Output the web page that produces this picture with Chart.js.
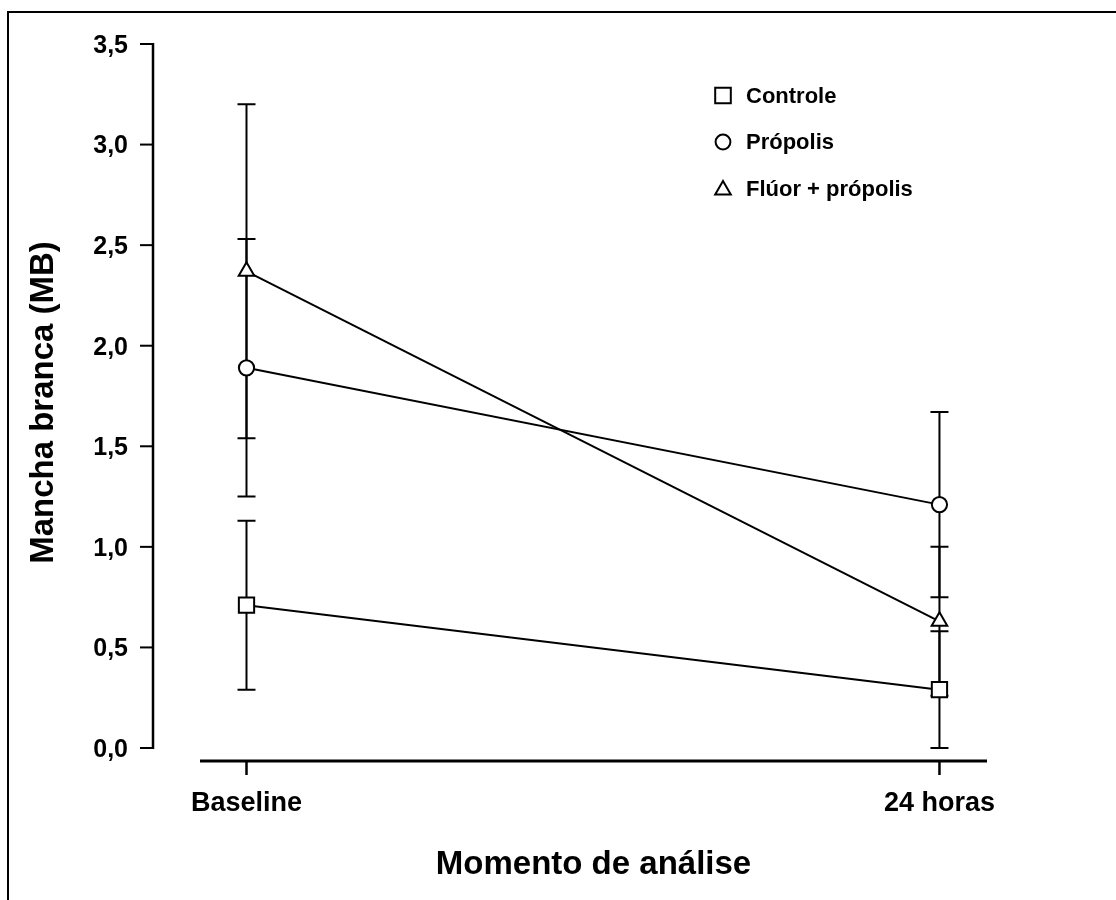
<!DOCTYPE html>
<html><head><meta charset="utf-8">
<script src="https://cdn.jsdelivr.net/npm/chart.js@4.4.0/dist/chart.umd.min.js"></script>
<style>html,body{margin:0;padding:0;background:#fff;}#wrap{width:1116px;height:900px;position:relative;}</style>
</head><body><div id="wrap"><canvas id="c" width="1116" height="900"></canvas></div>
<script>
// ---- data ----
const categories = ['Baseline', '24 horas'];
const seriesNames = ['Controle', 'Própolis', 'Flúor + própolis'];
const controleMean = [0.71, 0.29];
const controleSD   = [0.42, 0.29];
const propolisMean = [1.89, 1.21];
const propolisSD   = [0.64, 0.46];
const fluorMean    = [2.37, 0.63];
const fluorSD      = [0.83, 0.37];
const yTickValues  = [0, 0.5, 1.0, 1.5, 2.0, 2.5, 3.0, 3.5];
const xTickValues  = [0, 1];

const FONT = 'Liberation Sans, Arial, Helvetica, sans-serif';
const toPts = arr => arr.map((v, i) => ({x: xTickValues[i], y: v}));

const errorBars = {
  id: 'errorBars',
  beforeDatasetsDraw(chart) {
    const {ctx, scales: {y}} = chart;
    ctx.save();
    ctx.strokeStyle = '#000';
    ctx.lineWidth = 2;
    chart.data.datasets.forEach((ds, di) => {
      const meta = chart.getDatasetMeta(di);
      ds.errors.forEach((e, i) => {
        const px = meta.data[i].x;
        const m = ds.data[i].y;
        const t = y.getPixelForValue(m + e), b = y.getPixelForValue(m - e);
        ctx.beginPath();
        ctx.moveTo(px, t); ctx.lineTo(px, b);
        ctx.moveTo(px - 9, t); ctx.lineTo(px + 9, t);
        ctx.moveTo(px - 9, b); ctx.lineTo(px + 9, b);
        ctx.stroke();
      });
    });
    ctx.restore();
  }
};

function marker(ctx, style, x, y) {
  ctx.beginPath();
  if (style === 'rect') {
    ctx.rect(x - 7.8, y - 7.8, 15.6, 15.6);
  } else if (style === 'circle') {
    ctx.arc(x, y, 7.4, 0, Math.PI * 2);
  } else {
    ctx.moveTo(x, y - 7.5); ctx.lineTo(x + 7.8, y + 6); ctx.lineTo(x - 7.8, y + 6); ctx.closePath();
  }
  ctx.fillStyle = '#fff'; ctx.fill();
  ctx.stroke();
}

const decor = {
  id: 'decor',
  afterDraw(chart) {
    const {ctx, chartArea, scales: {x, y}} = chart;
    ctx.save();
    ctx.strokeStyle = '#000';
    ctx.lineCap = 'butt';
    // y axis line (offset left of plot area)
    const axX = chartArea.left - 47;
    ctx.lineWidth = 2.5;
    ctx.beginPath();
    ctx.moveTo(axX, y.getPixelForValue(0) + 1);
    ctx.lineTo(axX, y.getPixelForValue(3.5) - 1);
    ctx.stroke();
    ctx.lineWidth = 2;
    yTickValues.forEach(v => {
      const py = y.getPixelForValue(v);
      ctx.beginPath(); ctx.moveTo(axX - 13, py); ctx.lineTo(axX + 1, py); ctx.stroke();
    });
    // x axis line
    ctx.lineWidth = 3;
    ctx.beginPath(); ctx.moveTo(chartArea.left, chartArea.bottom); ctx.lineTo(chartArea.right, chartArea.bottom); ctx.stroke();
    ctx.lineWidth = 2.5;
    xTickValues.forEach(v => {
      const px = x.getPixelForValue(v);
      ctx.beginPath(); ctx.moveTo(px, chartArea.bottom); ctx.lineTo(px, chartArea.bottom + 14); ctx.stroke();
    });
    // frame
    ctx.lineWidth = 2;
    ctx.beginPath(); ctx.moveTo(8, 900); ctx.lineTo(8, 12); ctx.lineTo(1116, 12); ctx.stroke();
    // legend
    const rowsY = [95.5, 142, 188.5];
    ctx.font = 'bold 22px ' + FONT;
    ctx.textBaseline = 'middle';
    ctx.textAlign = 'left';
    ctx.lineWidth = 2;
    chart.data.datasets.forEach((ds, i) => {
      marker(ctx, ds.pointStyle, 723, rowsY[i]);
      ctx.fillStyle = '#000';
      ctx.fillText(ds.label, 746, rowsY[i] + 1);
    });
    ctx.restore();
  }
};

const common = {
  borderColor: '#000', borderWidth: 2,
  pointBackgroundColor: '#fff', pointBorderColor: '#000', pointBorderWidth: 2,
  tension: 0, fill: false
};

new Chart(document.getElementById('c'), {
  type: 'line',
  data: {
    datasets: [
      Object.assign({label: seriesNames[0], data: toPts(controleMean), errors: controleSD, pointStyle: 'rect', pointRadius: 10.8}, common),
      Object.assign({label: seriesNames[1], data: toPts(propolisMean), errors: propolisSD, pointStyle: 'circle', pointRadius: 7.6}, common),
      Object.assign({label: seriesNames[2], data: toPts(fluorMean), errors: fluorSD, pointStyle: 'triangle', pointRadius: 9}, common)
    ]
  },
  options: {
    responsive: false, animation: false, devicePixelRatio: 1,
    layout: {padding: {left: 8, right: 129, top: 44, bottom: 0}},
    plugins: {legend: {display: false}, tooltip: {enabled: false}},
    scales: {
      x: {
        type: 'linear', min: -0.0671, max: 1.0686,
        afterBuildTicks: s => { s.ticks = xTickValues.map(v => ({value: v})); },
        afterFit: s => { s.height = 139; },
        grid: {display: false, drawTicks: false}, border: {display: false},
        ticks: {color: '#000', padding: 26, maxRotation: 0, autoSkip: false,
          font: {family: FONT, size: 27, weight: 'bold'},
          callback: v => categories[xTickValues.indexOf(v)]},
        title: {display: true, text: 'Momento de análise', color: '#000',
          font: {family: FONT, size: 33, weight: 'bold'}, padding: {top: 0, bottom: 15}}
      },
      y: {
        type: 'linear', min: -0.0646, max: 3.5,
        afterBuildTicks: s => { s.ticks = yTickValues.map(v => ({value: v})); },
        afterFit: s => { s.width = 192; s.paddingTop = 0; s.paddingBottom = 0; },
        grid: {display: false, drawTicks: false}, border: {display: false},
        ticks: {color: '#000', padding: 72, labelOffset: 2, autoSkip: false,
          font: {family: FONT, size: 25, weight: 'bold'},
          callback: v => v.toFixed(1).replace('.', ',')},
        title: {display: true, text: 'Mancha branca (MB)', color: '#000',
          font: {family: FONT, size: 33, weight: 'bold'}, padding: {top: 16, bottom: 0}}
      }
    }
  },
  plugins: [errorBars, decor]
});
</script></body></html>
